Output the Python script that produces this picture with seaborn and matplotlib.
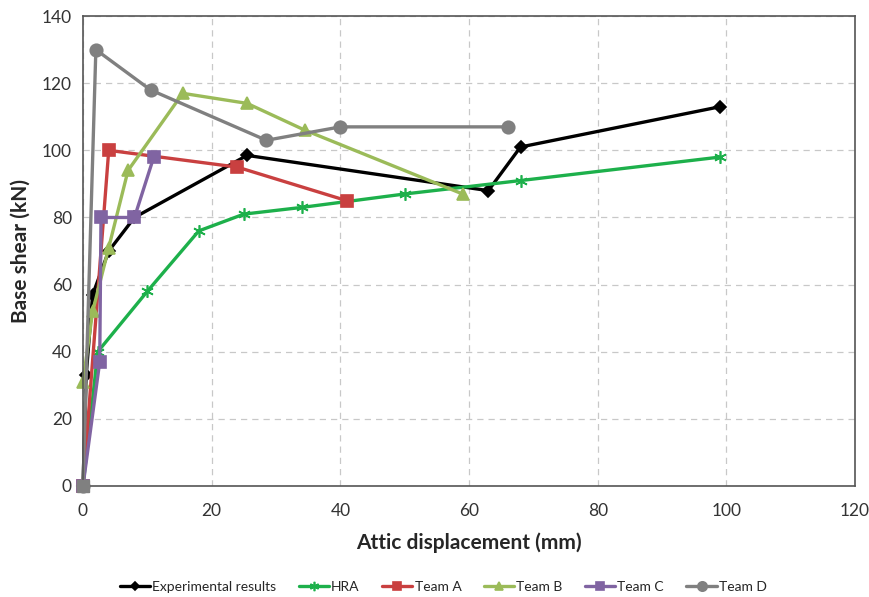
import numpy as np
import pandas as pd
import seaborn as sns
import matplotlib.pyplot as plt

# series (x: attic displacement mm, y: base shear kN)
exp_x = [0, 0.5, 1.5, 4, 8, 25.5, 63, 68, 99]
exp_y = [0, 33, 57, 70, 80, 98.5, 88, 101, 113]

hra_x = [0, 2.3, 10, 18, 25, 34, 50, 68, 99]
hra_y = [0, 40, 58, 76, 81, 83, 87, 91, 98]

teamA_x = [0, 4, 24, 41]
teamA_y = [0, 100, 95, 85]

teamB_x = [0, 1.5, 4, 7, 15.5, 25.5, 34.5, 59]
teamB_y = [31, 52, 71, 94, 117, 114, 106, 87]

teamC_x = [0, 2.6, 2.8, 8, 11]
teamC_y = [0, 37, 80, 80, 98]

teamD_x = [0, 2, 10.5, 28.5, 40, 66]
teamD_y = [0, 130, 118, 103, 107, 107]

sns.set_style("white")
plt.rcParams['font.family'] = ['Lato', 'DejaVu Sans']

fig, ax = plt.subplots(figsize=(8.69, 5.97), dpi=100)
fig.subplots_adjust(left=0.0955, right=0.984, top=0.973, bottom=0.186)

series = [
    ("Experimental results", exp_x, exp_y, "#000000", "D", 6),
    ("HRA", hra_x, hra_y, "#1db04b", (6, 2, 0), 9),
    ("Team A", teamA_x, teamA_y, "#c94040", "s", 8),
    ("Team B", teamB_x, teamB_y, "#9bbb59", "^", 8),
    ("Team C", teamC_x, teamC_y, "#8064a2", "s", 8),
    ("Team D", teamD_x, teamD_y, "#808080", "o", 9),
]

for name, xs, ys, col, mk, ms in series:
    df = pd.DataFrame({"x": xs, "y": ys})
    sns.lineplot(data=df, x="x", y="y", sort=False, color=col, linewidth=2.4,
                 marker=mk, markersize=ms, markeredgecolor=col,
                 markeredgewidth=1.2, label=name, ax=ax, clip_on=False)

# grey square sitting on the origin in the reference
ax.plot([0], [0], marker="s", markersize=9, color="#808080", clip_on=False, zorder=5)

ax.set_xlim(0, 120)
ax.set_ylim(0, 140)
ax.set_xticks(np.arange(0, 121, 20))
ax.set_yticks(np.arange(0, 141, 20))
ax.grid(True, linestyle=(0, (5, 4)), color="#c8c8c8", linewidth=0.9)
for s in ax.spines.values():
    s.set_color("#555555")
    s.set_linewidth(1.2)
ax.tick_params(axis="both", labelsize=12.5, colors="#333333", length=0)
ax.tick_params(axis="x", pad=12)
ax.tick_params(axis="y", pad=8)
ax.set_xlabel("Attic displacement (mm)", fontsize=15, fontweight="bold", labelpad=10)
ax.set_ylabel("Base shear (kN)", fontsize=15, fontweight="bold", labelpad=8)

handles, labels = ax.get_legend_handles_labels()
ax.get_legend().remove()
fig.legend(handles, labels, loc="center", bbox_to_anchor=(0.51, 0.017), ncol=6,
           frameon=False, fontsize=10, handlelength=2.2, columnspacing=1.6,
           handletextpad=0.15, markerscale=0.75, borderpad=0)

fig.savefig("out.png", dpi=100)
